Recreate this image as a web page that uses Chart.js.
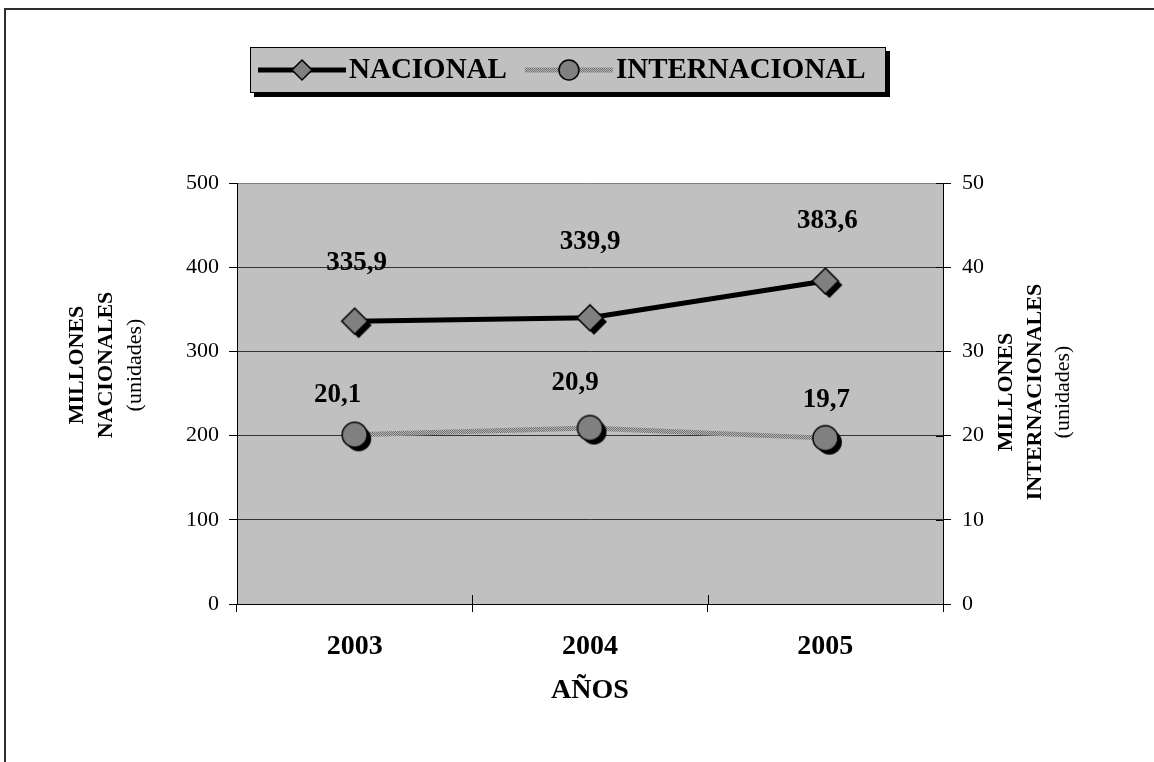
<!DOCTYPE html>
<html>
<head>
<meta charset="utf-8">
<script src="https://cdn.jsdelivr.net/npm/chart.js@4"></script>
<style>
  html, body { margin: 0; padding: 0; background: #fff; }
  canvas { display: block; }
</style>
</head>
<body>
<canvas id="lineChart" width="1154" height="762"></canvas>
<script>
// Datos
var years = ['2003', '2004', '2005'];
var nacional = [335.9, 339.9, 383.6];
var internacional = [20.1, 20.9, 19.7];
var leftTicks = [0, 100, 200, 300, 400, 500];
var rightTicks = [0, 10, 20, 30, 40, 50];

var serif = '"Liberation Serif", "Times New Roman", serif';

// Trama gris para la linea internacional
function makeHatch() {
  var c = document.createElement('canvas');
  c.width = 2; c.height = 2;
  var g = c.getContext('2d');
  g.fillStyle = '#b8b8b8'; g.fillRect(0, 0, 2, 2);
  g.fillStyle = '#6e6e6e'; g.fillRect(0, 0, 1, 1); g.fillRect(1, 1, 1, 1);
  return g.createPattern(c, 'repeat');
}

// Marcador con sombra (rombo o circulo)
function makeMarker(shape, r, shadow) {
  var pad = shadow + 2;
  var size = Math.ceil(2 * (r + pad));
  var c = document.createElement('canvas');
  c.width = size; c.height = size;
  var g = c.getContext('2d');
  var m = size / 2;
  function path(x, y) {
    g.beginPath();
    if (shape === 'diamond') {
      g.moveTo(x, y - r); g.lineTo(x + r, y); g.lineTo(x, y + r); g.lineTo(x - r, y); g.closePath();
    } else {
      g.arc(x, y, r, 0, Math.PI * 2);
    }
  }
  if (shadow) { path(m + shadow, m + shadow); g.fillStyle = '#000'; g.fill(); }
  path(m, m);
  g.fillStyle = '#808080'; g.fill();
  g.lineWidth = 1.5; g.strokeStyle = '#000'; g.stroke();
  return c;
}

var hatch = makeHatch();
var pointMarkers = [makeMarker('diamond', 13, 4), makeMarker('circle', 12.5, 4)];
var legendMarkers = [makeMarker('diamond', 10, 0), makeMarker('circle', 10, 0)];

// Fondo, marco exterior y area de trazado
var background = {
  id: 'background',
  beforeDraw: function (chart) {
    var ctx = chart.ctx, a = chart.chartArea;
    ctx.save();
    ctx.fillStyle = '#fff';
    ctx.fillRect(0, 0, chart.width, chart.height);
    ctx.strokeStyle = '#2e2e2e';
    ctx.lineWidth = 2;
    ctx.beginPath();
    ctx.moveTo(5, chart.height); ctx.lineTo(5, 9); ctx.lineTo(chart.width, 9);
    ctx.stroke();
    ctx.fillStyle = '#c0c0c0';
    ctx.fillRect(a.left, a.top, a.right - a.left, a.bottom - a.top);
    ctx.restore();
  }
};

// Marcas de division que cruzan el eje
var crossTicks = {
  id: 'crossTicks',
  afterDatasetsDraw: function (chart) {
    var ctx = chart.ctx, a = chart.chartArea;
    var xs = chart.scales.x, yr = chart.scales.y1;
    ctx.save();
    ctx.strokeStyle = '#000';
    ctx.lineWidth = 1;
    ctx.beginPath();
    for (var i = 0; i <= years.length; i++) {
      var px = Math.round(xs.getPixelForValue(i - 0.5)) + 0.5;
      ctx.moveTo(px, a.bottom); ctx.lineTo(px, a.bottom - 9);
    }
    rightTicks.forEach(function (v) {
      var py = Math.round(yr.getPixelForValue(v)) + 0.5;
      ctx.moveTo(a.right, py); ctx.lineTo(a.right - 7, py);
    });
    ctx.stroke();
    ctx.restore();
  }
};

// Etiquetas de valores
var valueLabels = {
  id: 'valueLabels',
  afterDatasetsDraw: function (chart, args, o) {
    var ctx = chart.ctx;
    ctx.save();
    ctx.font = 'bold 27px ' + serif;
    ctx.textAlign = 'center';
    ctx.textBaseline = 'middle';
    ctx.fillStyle = '#000';
    chart.data.datasets.forEach(function (ds, i) {
      chart.getDatasetMeta(i).data.forEach(function (pt, j) {
        var off = o.offsets[i][j];
        ctx.fillText(ds.data[j].toFixed(1).replace('.', ','), pt.x + off[0], pt.y + off[1]);
      });
    });
    ctx.restore();
  }
};

// Titulos de los ejes verticales
var sideTitles = {
  id: 'sideTitles',
  afterDraw: function (chart, args, o) {
    var ctx = chart.ctx;
    o.items.forEach(function (t) {
      ctx.save();
      ctx.translate(t.x, t.y);
      ctx.rotate(-Math.PI / 2);
      ctx.font = (t.bold ? 'bold ' : '') + '22px ' + serif;
      ctx.textAlign = 'center';
      ctx.textBaseline = 'middle';
      ctx.fillStyle = '#000';
      ctx.fillText(t.text, 0, 0);
      ctx.restore();
    });
  }
};

// Leyenda con recuadro y sombra
var legendBox = {
  id: 'legendBox',
  afterDraw: function (chart, args, o) {
    var ctx = chart.ctx;
    ctx.save();
    ctx.fillStyle = '#000';
    ctx.fillRect(o.x + 4, o.y + 4, o.w, o.h);
    ctx.fillStyle = '#c0c0c0';
    ctx.fillRect(o.x, o.y, o.w, o.h);
    ctx.strokeStyle = '#000';
    ctx.lineWidth = 1;
    ctx.strokeRect(o.x + 0.5, o.y + 0.5, o.w - 1, o.h - 1);
    ctx.font = 'bold 29px ' + serif;
    ctx.textBaseline = 'middle';
    var cx = o.x + 8, cy = o.y + o.h / 2;
    chart.data.datasets.forEach(function (ds, i) {
      ctx.strokeStyle = ds.borderColor;
      ctx.lineWidth = ds.borderWidth;
      ctx.beginPath();
      ctx.moveTo(cx, cy); ctx.lineTo(cx + o.sample, cy);
      ctx.stroke();
      var mk = legendMarkers[i];
      ctx.drawImage(mk, cx + o.sample / 2 - mk.width / 2, cy - mk.height / 2);
      cx += o.sample + 3;
      ctx.fillStyle = '#000';
      ctx.fillText(ds.label, cx, cy + 1);
      cx += ctx.measureText(ds.label).width + o.gap;
    });
    ctx.restore();
  }
};

var ctx = document.getElementById('lineChart').getContext('2d');

new Chart(ctx, {
  type: 'line',
  data: {
    labels: years,
    datasets: [
      {
        label: 'NACIONAL',
        data: nacional,
        yAxisID: 'y',
        borderColor: '#000',
        borderWidth: 5,
        tension: 0,
        pointStyle: pointMarkers[0],
      },
      {
        label: 'INTERNACIONAL',
        data: internacional,
        yAxisID: 'y1',
        borderColor: hatch,
        borderWidth: 5,
        tension: 0,
        pointStyle: pointMarkers[1],
      },
    ],
  },
  options: {
    responsive: false,
    animation: false,
    events: [],
    layout: { padding: { top: 183, left: 0, right: 0, bottom: 0 } },
    scales: {
      x: {
        offset: true,
        grid: { offset: true, drawOnChartArea: false, tickLength: 8, color: '#000' },
        border: { color: '#000', width: 1 },
        ticks: { color: '#000', padding: 18, font: { family: serif, size: 28, weight: 'bold' } },
        title: {
          display: true,
          text: 'AÑOS',
          color: '#000',
          font: { family: serif, size: 28, weight: 'bold' },
          padding: { top: 0, bottom: 54 },
        },
        afterFit: function (s) { s.height = 158; },
      },
      y: {
        position: 'left',
        min: leftTicks[0],
        max: leftTicks[leftTicks.length - 1],
        ticks: { stepSize: leftTicks[1] - leftTicks[0], color: '#000', padding: 10, font: { family: serif, size: 22 } },
        grid: {
          tickLength: 8,
          tickColor: '#000',
          color: function (c) { return c.tick && c.tick.value === leftTicks[leftTicks.length - 1] ? '#808080' : '#333'; },
        },
        border: { color: '#000', width: 1 },
        afterFit: function (s) { s.width = 237; },
      },
      y1: {
        position: 'right',
        min: rightTicks[0],
        max: rightTicks[rightTicks.length - 1],
        ticks: { stepSize: rightTicks[1] - rightTicks[0], color: '#000', padding: 11, font: { family: serif, size: 22 } },
        grid: { drawOnChartArea: false, tickLength: 8, color: '#000' },
        border: { color: '#000', width: 1 },
        afterFit: function (s) { s.width = 211; },
      },
    },
    plugins: {
      legend: { display: false },
      tooltip: { enabled: false },
      valueLabels: {
        offsets: [
          [[2, -58], [0, -76], [2, -60]],
          [[-17, -40], [-15, -45], [1, -38]],
        ],
      },
      sideTitles: {
        items: [
          { text: 'MILLONES', bold: true, x: 77, y: 365 },
          { text: 'NACIONALES', bold: true, x: 106, y: 365 },
          { text: '(unidades)', bold: false, x: 135, y: 365 },
          { text: 'MILLONES', bold: true, x: 1006, y: 392 },
          { text: 'INTERNACIONALES', bold: true, x: 1035, y: 392 },
          { text: '(unidades)', bold: false, x: 1063, y: 392 },
        ],
      },
      legendBox: { x: 250, y: 47, w: 636, h: 46, sample: 88, gap: 18 },
    },
  },
  plugins: [background, crossTicks, valueLabels, sideTitles, legendBox],
});
</script>
</body>
</html>
